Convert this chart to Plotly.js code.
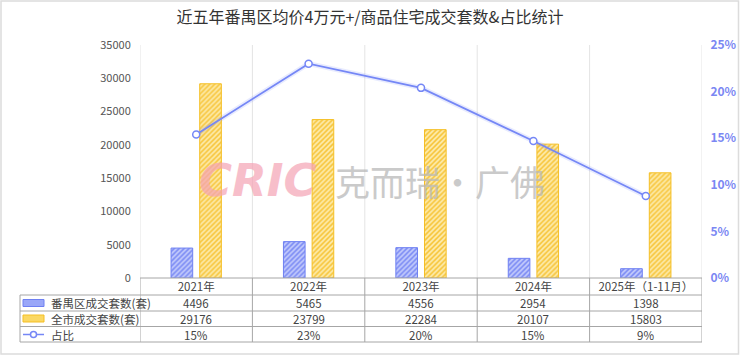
<!DOCTYPE html>
<html>
<head>
<meta charset="utf-8">
<script src="https://cdn.plot.ly/plotly-3.0.1.min.js"></script>
<style>html,body{margin:0;padding:0;background:#fff;}#chart{width:740px;height:363px;}</style>
</head>
<body>
<div id="chart"></div>
<script>
// ---- data ----
const years = ['2021年', '2022年', '2023年', '2024年', '2025年（1-11月）'];
const panyuSales = [4496, 5465, 4556, 2954, 1398];
const citySales = [29176, 23799, 22284, 20107, 15803];
const sharePct = [15.4, 23.0, 20.4, 14.7, 8.8];
const shareLabels = ['15%', '23%', '20%', '15%', '9%'];
const seriesNames = ['番禺区成交套数(套)', '全市成交套数(套)', '占比'];
const titleText = '近五年番禺区均价4万元+/商品住宅成交套数&占比统计';
const leftTicks = [0, 5000, 10000, 15000, 20000, 25000, 30000, 35000];
const rightTicks = [0, 5, 10, 15, 20, 25];

// ---- layout helpers (pixel -> paper) ----
const L = 140, R = 702, T = 45, B = 278;
const PX = p => (p - L) / (R - L);
const PY = p => (B - p) / (B - T);
const FONT = '"Noto Sans CJK SC", "Noto Sans", sans-serif';
const BLUE = '#6f80f2';
const GOLD = '#f5bf25';
const TABLE = '#a6a6a6';
const GRID = '#e4e4e4';

const traces = [
  {
    type: 'bar', name: seriesNames[0], x: years, y: panyuSales, yaxis: 'y',
    marker: {color: '#c3cbfc', line: {color: BLUE, width: 1},
      pattern: {shape: '/', fgcolor: '#7888f4', bgcolor: '#c3cbfc', size: 3.5, solidity: 0.45}},
    hoverinfo: 'x+y'
  },
  {
    type: 'bar', name: seriesNames[1], x: years, y: citySales, yaxis: 'y',
    marker: {color: '#fde7a0', line: {color: GOLD, width: 1},
      pattern: {shape: '/', fgcolor: '#f7c53a', bgcolor: '#fdeaa8', size: 3.5, solidity: 0.45}},
    hoverinfo: 'x+y'
  },
  {
    type: 'scatter', mode: 'lines', x: years, y: sharePct, yaxis: 'y2',
    line: {color: 'rgba(110,128,246,0.16)', width: 5}, hoverinfo: 'skip', showlegend: false
  },
  {
    type: 'scatter', mode: 'lines+markers', name: seriesNames[2], x: years, y: sharePct, yaxis: 'y2',
    line: {color: '#7587f6', width: 1.8},
    marker: {size: 7, color: '#ffffff', line: {color: '#7587f6', width: 1.5}},
    cliponaxis: false
  }
];

const shapes = [];
const annotations = [];

// outer frame
shapes.push({type: 'rect', xref: 'paper', yref: 'paper', x0: PX(1), x1: PX(738.5), y0: PY(1), y1: PY(354),
  line: {color: '#dcdcdc', width: 1.5}, layer: 'below'});

// vertical gridlines at category boundaries in plot, table column lines below
for (let i = 0; i <= years.length; i++) {
  const xb = i - 0.5;
  shapes.push({type: 'line', xref: 'x', yref: 'paper', x0: xb, x1: xb, y0: 0, y1: 1,
    line: {color: GRID, width: 1}, layer: 'below'});
  shapes.push({type: 'line', xref: 'x', yref: 'paper', x0: xb, x1: xb, y0: 0, y1: PY(342),
    line: {color: TABLE, width: 1}});
}
// table horizontal lines
shapes.push({type: 'line', xref: 'paper', yref: 'paper', x0: 0, x1: 1, y0: 0, y1: 0, line: {color: TABLE, width: 1}});
[295, 311, 326.5, 342].forEach(py => {
  shapes.push({type: 'line', xref: 'paper', yref: 'paper', x0: PX(20), x1: 1, y0: PY(py), y1: PY(py),
    line: {color: TABLE, width: 1}});
});
shapes.push({type: 'line', xref: 'paper', yref: 'paper', x0: PX(20), x1: PX(20), y0: PY(295), y1: PY(342),
  line: {color: TABLE, width: 1}});

// legend icons in table
shapes.push({type: 'rect', xref: 'paper', yref: 'paper', x0: PX(23), x1: PX(44), y0: PY(299.5), y1: PY(306.5),
  fillcolor: '#9aa7f8', line: {color: BLUE, width: 1}});
shapes.push({type: 'rect', xref: 'paper', yref: 'paper', x0: PX(23), x1: PX(44), y0: PY(315), y1: PY(322),
  fillcolor: '#fbd863', line: {color: GOLD, width: 1}});
shapes.push({type: 'line', xref: 'paper', yref: 'paper', x0: PX(23), x1: PX(44), y0: PY(334.5), y1: PY(334.5),
  line: {color: '#7587f6', width: 1.5}});
shapes.push({type: 'circle', xref: 'paper', yref: 'paper', x0: PX(30.5), x1: PX(36.5), y0: PY(331.5), y1: PY(337.5),
  fillcolor: '#ffffff', line: {color: '#7587f6', width: 1.5}});

const rowY = [PY(303), PY(318.8), PY(334.5)];
seriesNames.forEach((n, r) => {
  annotations.push({xref: 'paper', yref: 'paper', x: PX(49), y: rowY[r], xanchor: 'left', yanchor: 'middle',
    text: n, showarrow: false, font: {family: FONT, size: 11.5, color: '#444'}});
});
const rows = [panyuSales.map(String), citySales.map(String), shareLabels];
rows.forEach((vals, r) => {
  vals.forEach((v, i) => {
    annotations.push({xref: 'x', yref: 'paper', x: years[i], y: rowY[r], xanchor: 'center', yanchor: 'middle',
      text: v, showarrow: false, font: {family: FONT, size: 11.5, color: '#444'}});
  });
});

// watermark
annotations.push({xref: 'paper', yref: 'paper', x: PX(257), y: PY(180), xanchor: 'center', yanchor: 'middle',
  text: 'CRIC', showarrow: false, opacity: 0.7,
  font: {family: '"DejaVu Sans", sans-serif', size: 45, color: '#f5a3b5', weight: 'bold', style: 'italic'}});
annotations.push({xref: 'paper', yref: 'paper', x: PX(440), y: PY(180), xanchor: 'center', yanchor: 'middle',
  text: '克而瑞·广佛', showarrow: false, opacity: 0.75,
  font: {family: FONT, size: 35, color: '#b9b9b9'}});

const layout = {
  width: 740, height: 363,
  margin: {l: L, r: 740 - R, t: T, b: 363 - B, pad: 0},
  paper_bgcolor: '#ffffff', plot_bgcolor: 'rgba(0,0,0,0)',
  showlegend: false,
  font: {family: FONT, color: '#555'},
  title: {text: titleText, x: 0.5, xanchor: 'center', y: 1 - 17 / 363, yanchor: 'middle',
    font: {family: FONT, size: 16, color: '#333'}},
  barmode: 'group', bargap: 0.49, bargroupgap: 0.245,
  xaxis: {type: 'category', range: [-0.5, 4.5], showgrid: false, zeroline: false, showline: false,
    ticks: '', tickfont: {family: FONT, size: 11.5, color: '#444'}, fixedrange: true},
  yaxis: {range: [0, 35000], tickvals: leftTicks, ticktext: leftTicks.map(String), showgrid: false,
    zeroline: false, showline: false, ticks: 'outside', ticklen: 6, tickcolor: 'rgba(0,0,0,0)',
    tickfont: {family: FONT, size: 11, color: '#555'}, fixedrange: true},
  yaxis2: {overlaying: 'y', side: 'right', range: [0, 25], tickvals: rightTicks,
    ticktext: rightTicks.map(v => v + '%'), showgrid: false, zeroline: false, showline: false,
    ticks: 'outside', ticklen: 5, tickcolor: 'rgba(0,0,0,0)',
    tickfont: {family: FONT, size: 12, color: '#7b87f3', weight: 'bold'}, fixedrange: true},
  shapes: shapes,
  annotations: annotations
};

Plotly.newPlot('chart', traces, layout, {displayModeBar: false, staticPlot: true});
</script>
</body>
</html>
